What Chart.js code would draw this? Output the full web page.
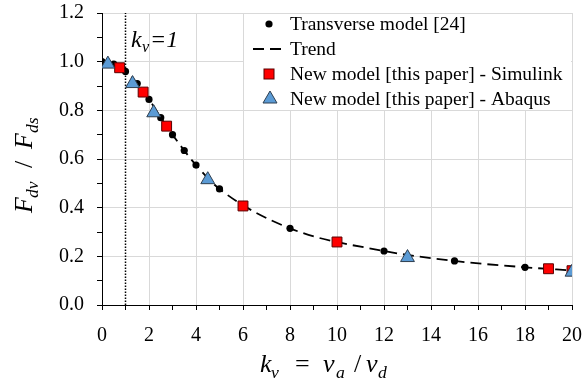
<!DOCTYPE html>
<html>
<head>
<meta charset="utf-8">
<script src="https://cdn.jsdelivr.net/npm/chart.js@4"></script>
<style>
  html, body { margin: 0; padding: 0; background: #fff; }
  #wrap { width: 583px; height: 385px; }
</style>
</head>
<body>
<div id="wrap"><canvas id="forceChart" width="583" height="385"></canvas></div>
<script>
/* values */
const transX = [0, 0.5, 1, 1.5, 2, 2.5, 3, 3.5, 4, 5, 8, 12, 15, 18];
const transY = [1.0, 0.99, 0.96, 0.91, 0.845, 0.77, 0.70, 0.635, 0.575, 0.477, 0.315, 0.222, 0.181, 0.155];
const trendX = [0, 0.5, 1, 1.5, 2, 2.5, 3, 3.5, 4, 5, 8, 12, 15, 18, 20];
const trendY = [1.0, 0.99, 0.96, 0.91, 0.845, 0.77, 0.70, 0.635, 0.575, 0.477, 0.315, 0.222, 0.181, 0.155, 0.142];
const simX = [0.75, 1.75, 2.75, 6, 10, 19, 20];
const simY = [0.975, 0.875, 0.735, 0.407, 0.259, 0.149, 0.141];
const abaX = [0.25, 1.3, 2.2, 4.5, 13, 20];
const abaY = [0.99, 0.91, 0.79, 0.515, 0.195, 0.135];
const kvLineX = [1, 1];
const kvLineY = [0, 1.2];
const legendLabels = ["Transverse model [24]", "Trend", "New model [this paper] - Simulink", "New model [this paper] - Abaqus"];

const pts = (xs, ys) => xs.map((x, i) => ({ x: x, y: ys[i] }));
const SERIF = '"Liberation Serif", "Times New Roman", serif';
const RED = "#ff0000", BLUE = "#5b9bd5";

/* equation-like text: each part placed at its own offset, subscripts smaller and lower */
function drawEq(ctx, parts, x, y, size) {
  parts.forEach(p => {
    const s = p.sub ? size * 0.68 : size;
    ctx.font = (p.it ? "italic " : "") + s + "px " + SERIF;
    ctx.fillText(p.t, x + p.dx, p.sub ? y + size * 0.22 : y);
  });
}

const decor = {
  id: "decor",
  afterDraw(chart) {
    const ctx = chart.ctx;
    ctx.save();
    ctx.fillStyle = "#000";
    ctx.textBaseline = "alphabetic";
    ctx.textAlign = "left";

    // x axis title  k_v = v_a / v_d
    drawEq(ctx, [
      {t:"k",it:1,dx:0},{t:"v",it:1,sub:1,dx:11},{t:"=",dx:35},
      {t:"v",it:1,dx:63},{t:"a",it:1,sub:1,dx:76},{t:"/",dx:94},
      {t:"v",it:1,dx:106},{t:"d",it:1,sub:1,dx:118}
    ], 260, 372, 26);

    // y axis title  F_dv / F_ds (rotated)
    ctx.save();
    ctx.translate(32, 213);
    ctx.rotate(-Math.PI / 2);
    drawEq(ctx, [
      {t:"F",it:1,dx:0},{t:"dv",it:1,sub:1,dx:15},{t:"/",dx:45},
      {t:"F",it:1,dx:64},{t:"ds",it:1,sub:1,dx:80}
    ], 0, 0, 26);
    ctx.restore();

    // k_v = 1 label next to the dotted line
    drawEq(ctx, [{t:"k",it:1,dx:0},{t:"v",it:1,sub:1,dx:11},{t:"=1",it:1,dx:19}], 131, 47, 24);

    // legend box over the grid
    ctx.fillStyle = "#fff";
    ctx.fillRect(244, 14, 327, 96);
    const rows = [24, 49, 74, 99];
    ctx.fillStyle = "#000";
    ctx.font = "19.5px " + SERIF;
    ctx.textBaseline = "middle";
    legendLabels.forEach((t, i) => ctx.fillText(t, 290, rows[i] + 1));
    ctx.beginPath();
    ctx.arc(269, rows[0], 3.6, 0, Math.PI * 2);
    ctx.fill();
    ctx.strokeStyle = "#000";
    ctx.lineWidth = 1.8;
    ctx.setLineDash([11, 6]);
    ctx.beginPath();
    ctx.moveTo(253, rows[1]);
    ctx.lineTo(283, rows[1]);
    ctx.stroke();
    ctx.setLineDash([]);
    ctx.fillStyle = RED;
    ctx.strokeStyle = "#5a0000";
    ctx.lineWidth = 1;
    ctx.fillRect(264, rows[2] - 5, 10, 10);
    ctx.strokeRect(264, rows[2] - 5, 10, 10);
    ctx.fillStyle = BLUE;
    ctx.strokeStyle = "#2f3f50";
    ctx.beginPath();
    ctx.moveTo(270, rows[3] - 8);
    ctx.lineTo(277, rows[3] + 4);
    ctx.lineTo(263, rows[3] + 4);
    ctx.closePath();
    ctx.fill();
    ctx.stroke();
    ctx.restore();
  }
};

new Chart(document.getElementById("forceChart"), {
  type: "scatter",
  data: {
    datasets: [
      {
        label: "New model [this paper] - Abaqus",
        data: pts(abaX, abaY),
        pointStyle: "triangle",
        pointRadius: 8,
        backgroundColor: BLUE,
        borderColor: "#2f3f50",
        borderWidth: 1,
        order: 0
      },
      {
        label: "New model [this paper] - Simulink",
        data: pts(simX, simY),
        pointStyle: "rect",
        pointRadius: 7,
        backgroundColor: RED,
        borderColor: "#5a0000",
        borderWidth: 1,
        order: 1
      },
      {
        label: "Transverse model [24]",
        data: pts(transX, transY),
        pointRadius: 3.6,
        backgroundColor: "#000",
        borderColor: "#000",
        borderWidth: 0,
        order: 2
      },
      {
        label: "Trend",
        data: pts(trendX, trendY),
        showLine: true,
        pointRadius: 0,
        borderColor: "#000",
        borderWidth: 1.8,
        borderDash: [11, 6],
        cubicInterpolationMode: "monotone",
        order: 3
      },
      {
        label: "kv=1",
        data: pts(kvLineX, kvLineY),
        showLine: true,
        pointRadius: 0,
        borderColor: "#000",
        borderWidth: 1.5,
        borderDash: [1.5, 1.5],
        order: 4
      }
    ]
  },
  options: {
    responsive: false,
    animation: false,
    layout: { padding: { top: 13, right: 11, left: 0, bottom: 0 } },
    plugins: { legend: { display: false }, tooltip: { enabled: false } },
    scales: {
      x: {
        type: "linear",
        min: 0, max: 20,
        afterFit: s => { s.height = 80; s.paddingLeft = 0; s.paddingRight = 0; },
        border: { color: "#000", width: 1 },
        grid: {
          color: c => (c.tick && c.tick.value % 2 === 0) ? "#d9d9d9" : "transparent",
          tickColor: "#000",
          tickLength: 5
        },
        ticks: {
          stepSize: 1,
          autoSkip: false,
          maxRotation: 0,
          padding: 14,
          color: "#000",
          font: { family: SERIF, size: 20 },
          callback: v => (v % 2 === 0 ? String(v) : "")
        }
      },
      y: {
        min: 0, max: 1.2,
        afterFit: s => { s.width = 102; s.paddingTop = 0; s.paddingBottom = 0; },
        border: { color: "#000", width: 1 },
        grid: {
          color: c => (c.tick && Math.round(c.tick.value * 10) % 2 === 0) ? "#d9d9d9" : "transparent",
          tickColor: "#000",
          tickLength: 5
        },
        ticks: {
          stepSize: 0.1,
          autoSkip: false,
          padding: 13,
          color: "#000",
          font: { family: SERIF, size: 20 },
          callback: v => (Math.round(v * 10) % 2 === 0 ? v.toFixed(1) : "")
        }
      }
    }
  },
  plugins: [decor]
});
</script>
</body>
</html>
